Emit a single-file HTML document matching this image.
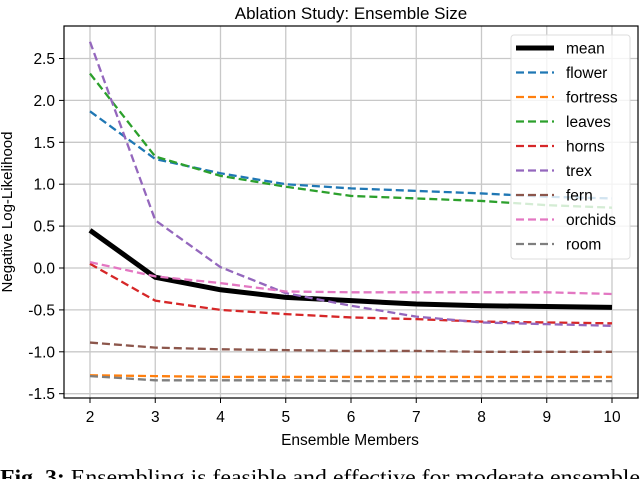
<!DOCTYPE html>
<html><head><meta charset="utf-8"><style>
body{margin:0;background:#fff;width:640px;height:479px;overflow:hidden}
svg text{font-family:"Liberation Sans","DejaVu Sans",sans-serif}
</style></head><body>
<svg id="c" width="640" height="479"></svg>
<script>
const categories=[2,3,4,5,6,7,8,9,10];
const seriesNames=["mean","flower","fortress","leaves","horns","trex","fern","orchids","room"];
const colors=["#000000","#1f77b4","#ff7f0e","#2ca02c","#d62728","#9467bd","#8c564b","#e377c2","#7f7f7f"];
const meanVals=[0.45,-0.11,-0.26,-0.35,-0.39,-0.43,-0.45,-0.46,-0.47];
const flowerVals=[1.87,1.30,1.13,1.00,0.95,0.92,0.89,0.85,0.83];
const fortressVals=[-1.28,-1.29,-1.30,-1.30,-1.30,-1.30,-1.30,-1.30,-1.30];
const leavesVals=[2.32,1.33,1.10,0.97,0.86,0.83,0.80,0.75,0.72];
const hornsVals=[0.05,-0.39,-0.50,-0.55,-0.59,-0.61,-0.64,-0.65,-0.66];
const trexVals=[2.70,0.57,0.01,-0.30,-0.45,-0.58,-0.65,-0.67,-0.69];
const fernVals=[-0.89,-0.95,-0.97,-0.98,-0.99,-0.99,-1.00,-1.00,-1.00];
const orchidsVals=[0.07,-0.10,-0.18,-0.28,-0.29,-0.29,-0.29,-0.29,-0.31];
const roomVals=[-1.29,-1.34,-1.34,-1.34,-1.35,-1.35,-1.35,-1.35,-1.35];
const yTicks=[-1.5,-1.0,-0.5,0.0,0.5,1.0,1.5,2.0,2.5];
const allVals=[meanVals,flowerVals,fortressVals,leavesVals,hornsVals,trexVals,fernVals,orchidsVals,roomVals];

const NS="http://www.w3.org/2000/svg",svg=document.getElementById('c');
const L=64,R=638,T=26,B=398;
const xs=v=>90+(v-2)*65.25;
const ys=v=>268-v*83.8;
function mk(t,a,p){const e=document.createElementNS(NS,t);for(const k in a)e.setAttribute(k,a[k]);(p||svg).appendChild(e);return e;}

const title=mk('text',{x:351,y:19,'text-anchor':'middle','font-size':17,fill:'#000'});title.textContent="Ablation Study: Ensemble Size";



categories.forEach(c=>{
 const g=mk('line',{x1:xs(c),x2:xs(c),y1:T,y2:B,stroke:'#c8c8c8','stroke-width':1.3});
 
 
 mk('line',{x1:xs(c),x2:xs(c),y1:B,y2:B+5,stroke:'#000'});
 const t=mk('text',{x:xs(c),y:B+24,'text-anchor':'middle','font-size':15.5});t.textContent=c;
 
 
});
yTicks.forEach(v=>{
 const g=mk('line',{x1:L,x2:R,y1:ys(v),y2:ys(v),stroke:'#c8c8c8','stroke-width':1.3});
 
 
 mk('line',{x1:L-5,x2:L,y1:ys(v),y2:ys(v),stroke:'#000'});
 const t=mk('text',{x:L-9,y:ys(v)+5.5,'text-anchor':'end','font-size':15.5});t.textContent=v.toFixed(1);
 
 
});

allVals.forEach((vals,i)=>{
 const p=mk('polyline',{points:vals.map((v,j)=>xs(categories[j])+','+ys(v)).join(' '),fill:'none',stroke:colors[i],
  'stroke-width':i==0?5:2.3,'stroke-dasharray':i==0?'none':'8,4'});
 
 
});

const frame=mk('rect',{x:L,y:T,width:R-L,height:B-T,fill:'none',stroke:'#000','stroke-width':1.2});



const xl=mk('text',{x:350,y:445,'text-anchor':'middle','font-size':15.5});xl.textContent="Ensemble Members";


const yl=mk('text',{x:0,y:0,'text-anchor':'middle','font-size':15,transform:'translate(12,212) rotate(-90)'});yl.textContent="Negative Log-Likelihood";



const lg=mk('g',{});


mk('rect',{x:511,y:35,width:119,height:224,rx:3,fill:'rgba(255,255,255,0.8)',stroke:'#ddd'},lg);
seriesNames.forEach((n,i)=>{
 const y=48+i*24.5;
 mk('line',{x1:516,x2:554,y1:y,y2:y,stroke:colors[i],'stroke-width':i==0?5:2.3,'stroke-dasharray':i==0?'none':'8,4'},lg);
 const t=mk('text',{x:566,y:y+5.5,'font-size':15.5},lg);t.textContent=n;
 
 
});

const cap=mk('text',{x:0,y:484,'font-size':21,textLength:640,lengthAdjust:'spacingAndGlyphs',style:'font-family:"Liberation Serif",serif'});
cap.innerHTML='<tspan font-weight="bold">Fig. 3:</tspan> Ensembling is feasible and effective for moderate ensemble';


</script>
</body></html>
